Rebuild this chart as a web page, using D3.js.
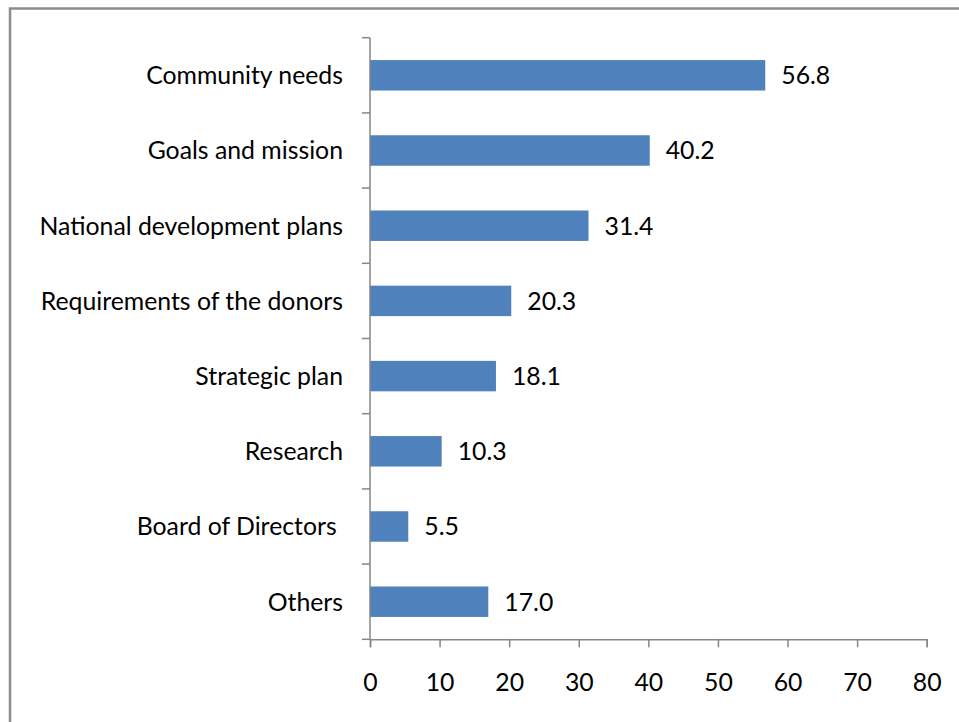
<!DOCTYPE html>
<html>
<head>
<meta charset="utf-8">
<script src="https://cdn.jsdelivr.net/npm/d3@7"></script>
<style>
  html, body { margin: 0; padding: 0; background: #fff; }
  svg { display: block; }
  text { font-family: Lato, "Open Sans", sans-serif; fill: #000; }
</style>
</head>
<body>
<svg id="chart" width="959" height="722"></svg>
<script>
// Share of respondents by basis for setting priorities (%)
const categories = [
  "Community needs",
  "Goals and mission",
  "National development plans",
  "Requirements of the donors",
  "Strategic plan",
  "Research",
  "Board of Directors ",
  "Others"
];
const values = [56.8, 40.2, 31.4, 20.3, 18.1, 10.3, 5.5, 17.0];
const xTicks = [0, 10, 20, 30, 40, 50, 60, 70, 80];

const svg = d3.select("#chart");
const axisColor = "#868686";
const barColor = "#4f81bd";
const fontSize = 24.8;

// Outer frame (runs off the right and bottom edges)
svg.append("rect")
  .attr("x", 10).attr("y", 8.5)
  .attr("width", 1000).attr("height", 800)
  .attr("fill", "none")
  .attr("stroke", "#8c8c8c")
  .attr("stroke-width", 2.5);

const x = d3.scaleLinear().domain([0, 80]).range([370, 926.7]);
const y = d3.scaleBand().domain(categories).range([37.7, 639.3]).padding(0);
const barH = y.bandwidth() * 0.405;

// Bars
svg.append("g").selectAll("rect")
  .data(values)
  .join("rect")
  .attr("x", x(0))
  .attr("y", (d, i) => y(categories[i]) + (y.bandwidth() - barH) / 2)
  .attr("width", d => x(d) - x(0))
  .attr("height", barH)
  .attr("fill", barColor);

// Value labels
svg.append("g").selectAll("text")
  .data(values)
  .join("text")
  .attr("x", d => x(d) + 16)
  .attr("y", (d, i) => y(categories[i]) + y.bandwidth() / 2)
  .attr("dy", "0.36em")
  .style("font-size", fontSize + "px")
  .text(d => d.toFixed(1));

// X axis
const xAxis = svg.append("g")
  .attr("transform", `translate(0,${y.range()[1]})`)
  .call(d3.axisBottom(x).tickValues(xTicks).tickSize(8).tickFormat(d3.format("d")));
xAxis.selectAll("path, line").attr("stroke", axisColor).attr("stroke-width", 1.5);
xAxis.selectAll("text")
  .attr("y", 52).attr("dy", null)
  .attr("fill", "#000")
  .style("font-family", "Lato, sans-serif")
  .style("font-size", fontSize + "px");

// Y axis: line with ticks at the category boundaries
const yAxis = svg.append("g");
const bounds = categories.map(c => y(c)).concat([y.range()[1]]);
yAxis.append("line")
  .attr("x1", x(0)).attr("x2", x(0))
  .attr("y1", y.range()[0]).attr("y2", y.range()[1])
  .attr("stroke", axisColor).attr("stroke-width", 1.5);
yAxis.selectAll("line.tick")
  .data(bounds)
  .join("line")
  .attr("class", "tick")
  .attr("x1", x(0) - 8).attr("x2", x(0))
  .attr("y1", d => d).attr("y2", d => d)
  .attr("stroke", axisColor).attr("stroke-width", 1.5);

// Category labels
yAxis.selectAll("text")
  .data(categories)
  .join("text")
  .attr("x", 343)
  .attr("y", d => y(d) + y.bandwidth() / 2)
  .attr("dy", "0.36em")
  .attr("text-anchor", "end")
  .attr("xml:space", "preserve")
  .style("white-space", "pre")
  .style("font-size", fontSize + "px")
  .text(d => d);
</script>
</body>
</html>
